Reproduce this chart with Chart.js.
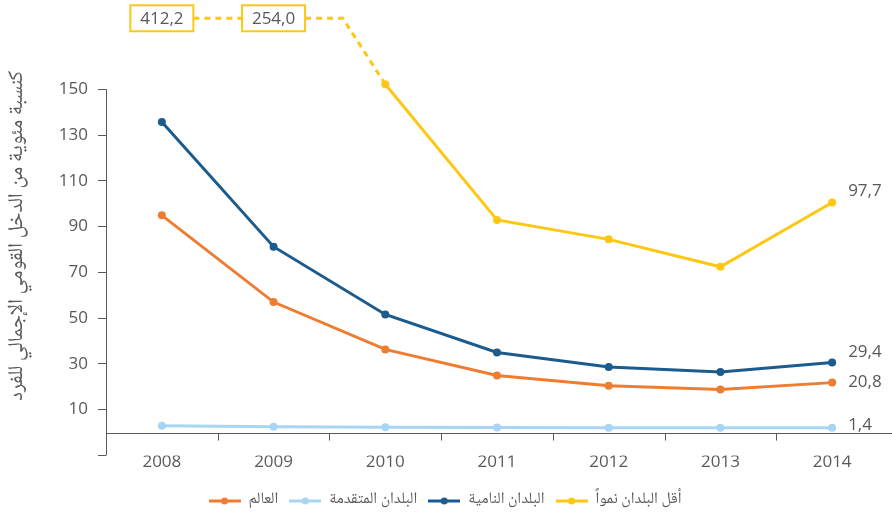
<!DOCTYPE html>
<html>
<head>
<meta charset="utf-8">
<script src="https://cdn.jsdelivr.net/npm/chart.js@4.4.1/dist/chart.umd.min.js"></script>
<style>
  html, body { margin: 0; padding: 0; background: #fff; }
  #wrap { width: 892px; height: 523px; position: relative; }
</style>
</head>
<body>
<div id="wrap"><canvas id="myChart"></canvas></div>
<script>
// السنوات
const years = ["2008", "2009", "2010", "2011", "2012", "2013", "2014"];

// القيم (كنسبة مئوية من الدخل القومي الإجمالي للفرد)
const world = [94.9, 57.0, 36.3, 24.9, 20.4, 18.8, 21.8];
const developed = [3.0, 2.5, 2.3, 2.2, 2.1, 2.1, 2.1];
const developing = [135.7, 81.2, 51.6, 35.0, 28.6, 26.4, 30.6];
const leastDeveloped = [412.2, 254.0, 152.2, 92.9, 84.4, 72.4, 100.5];

// تسميات نهاية الخطوط
const endLabels = ["20,8", "1,4", "29,4", "97,7"];

const seriesNames = ["العالم", "البلدان المتقدمة", "البلدان النامية", "أقل البلدان نمواً"];
const colors = ["#EE7D31", "#A8D5F3", "#1B5B8D", "#FDC713"];

const yTicks = [-10, 10, 30, 50, 70, 90, 110, 130, 150];
const yTitle = "كنسبة مئوية من الدخل القومي الإجمالي للفرد";

const Y_MIN = -10, Y_MAX = 182, OFF_LEVEL = 181, CUT = 160;
const grey = "#595959";
const numFont = "'Open Sans', 'DejaVu Sans', sans-serif";
const arFont = "'Noto Naskh Arabic', 'Noto Sans Arabic', 'DejaVu Sans', sans-serif";

// رمز المفتاح: خط مع نقطة
function legendIcon(color) {
    const c = document.createElement("canvas");
    c.width = 32; c.height = 10;
    const g = c.getContext("2d");
    g.strokeStyle = color; g.lineWidth = 3;
    g.beginPath(); g.moveTo(0, 5); g.lineTo(32, 5); g.stroke();
    g.fillStyle = color;
    g.beginPath(); g.arc(16, 5, 3.5, 0, Math.PI * 2); g.fill();
    return c;
}

const allSeries = [world, developed, developing, leastDeveloped];
const datasets = allSeries.map((arr, i) => ({
    label: seriesNames[i],
    data: arr.map(v => v > CUT ? null : v),
    borderColor: colors[i],
    backgroundColor: colors[i],
    borderWidth: 3,
    pointRadius: 4,
    pointBorderWidth: 0,
    pointStyle: "circle",
    legendIcon: legendIcon(colors[i]),
    spanGaps: false,
    tension: 0
}));

const extras = {
    id: "extras",
    afterDraw(chart) {
        const ctx = chart.ctx;
        const x = chart.scales.x, y = chart.scales.y;
        const area = chart.chartArea;
        ctx.save();

        // محور الصادات
        ctx.strokeStyle = grey; ctx.lineWidth = 1;
        const ax = Math.round(area.left) + 0.5;
        ctx.beginPath();
        ctx.moveTo(ax, y.getPixelForValue(yTicks[0]));
        ctx.lineTo(ax, y.getPixelForValue(yTicks[yTicks.length - 1]));
        ctx.stroke();

        // محور السينات عند الصفر
        const y0 = Math.round(y.getPixelForValue(0)) + 0.5;
        ctx.beginPath();
        ctx.moveTo(ax, y0); ctx.lineTo(chart.width, y0);
        for (let i = 0; i < years.length - 1; i++) {
            const mx = Math.round((x.getPixelForValue(i) + x.getPixelForValue(i + 1)) / 2) + 0.5;
            ctx.moveTo(mx, y0); ctx.lineTo(mx, y0 + 7);
        }
        ctx.stroke();

        // القيم خارج المقياس
        const yl = y.getPixelForValue(OFF_LEVEL);
        const ylColor = colors[3];
        const off = [];
        leastDeveloped.forEach((v, i) => { if (v > CUT) off.push(i); });
        const bw = 63, bh = 26;
        ctx.strokeStyle = ylColor; ctx.lineWidth = 3; ctx.setLineDash([6, 5]);
        ctx.beginPath();
        off.forEach((i, k) => {
            const cx = x.getPixelForValue(i);
            if (k < off.length - 1) {
                ctx.moveTo(cx + bw / 2, yl);
                ctx.lineTo(x.getPixelForValue(off[k + 1]) - bw / 2, yl);
            } else {
                const nx = x.getPixelForValue(i + 1);
                ctx.moveTo(cx + bw / 2, yl);
                ctx.lineTo(cx + (nx - cx) * 0.62, yl);
                ctx.lineTo(nx, y.getPixelForValue(leastDeveloped[i + 1]));
            }
        });
        ctx.stroke();
        ctx.setLineDash([]);
        ctx.font = "17px " + numFont;
        ctx.textAlign = "center"; ctx.textBaseline = "middle";
        off.forEach(i => {
            const cx = x.getPixelForValue(i);
            ctx.fillStyle = "#fff";
            ctx.fillRect(cx - bw / 2, yl - bh / 2, bw, bh);
            ctx.lineWidth = 2; ctx.strokeStyle = ylColor;
            ctx.strokeRect(cx - bw / 2, yl - bh / 2, bw, bh);
            ctx.fillStyle = grey;
            ctx.fillText(leastDeveloped[i].toFixed(1).replace(".", ","), cx, yl + 1);
        });

        // تسميات نهاية الخطوط
        const shift = [0, -3, -10, -11];
        const last = years.length - 1;
        ctx.textAlign = "left";
        allSeries.forEach((arr, i) => {
            const px = x.getPixelForValue(last) + 16;
            const py = y.getPixelForValue(arr[last]) + shift[i];
            ctx.fillText(endLabels[i], px, py);
        });
        ctx.restore();
    }
};

const ctx = document.getElementById("myChart").getContext("2d");

const chart = new Chart(ctx, {
    type: "line",
    data: { labels: years, datasets: datasets },
    options: {
        responsive: true,
        maintainAspectRatio: false,
        animation: false,
        layout: { padding: { top: 16, right: 2, left: 0, bottom: 4 } },
        plugins: {
            tooltip: { enabled: false },
            legend: {
                position: "bottom",
                title: { display: true, text: " ", font: { size: 1 }, padding: { top: 8, bottom: 0 } },
                labels: {
                    usePointStyle: true,
                    pointStyleWidth: 32,
                    padding: 11,
                    color: grey,
                    font: { family: arFont, size: 16 },
                    generateLabels(chart) {
                        return chart.data.datasets.map((d, i) => ({
                            text: d.label,
                            fillStyle: d.borderColor,
                            strokeStyle: d.borderColor,
                            lineWidth: 0,
                            pointStyle: d.legendIcon,
                            fontColor: grey,
                            datasetIndex: i
                        }));
                    }
                }
            }
        },
        scales: {
            x: {
                grid: { display: false, drawTicks: false },
                border: { display: false },
                offset: true,
                afterFit(axis) { axis.height += 3; },
                ticks: { color: grey, font: { family: numFont, size: 17 }, padding: -3, maxRotation: 0 }
            },
            y: {
                min: Y_MIN,
                max: Y_MAX,
                afterBuildTicks(axis) { axis.ticks = yTicks.map(v => ({ value: v })); },
                afterFit(axis) { axis.width = 106; axis.paddingTop = 0; },
                grid: { drawOnChartArea: false, drawTicks: true, tickLength: 8, color: grey },
                border: { display: false },
                ticks: {
                    color: grey,
                    padding: 10,
                    font: { family: numFont, size: 17 },
                    callback: v => v < 0 ? "" : v
                },
                title: {
                    display: true,
                    text: yTitle,
                    color: grey,
                    font: { family: arFont, size: 21 },
                    padding: { top: 7, bottom: 0 }
                }
            }
        }
    },
    plugins: [extras]
});
</script>
</body>
</html>
